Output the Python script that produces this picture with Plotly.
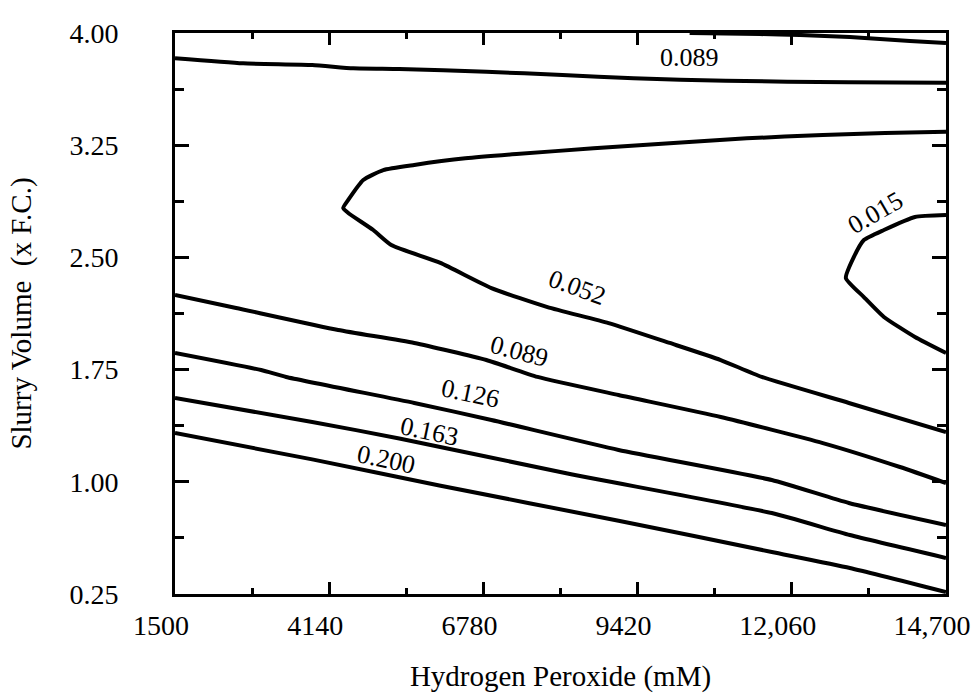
import plotly.graph_objects as go

# ---- axis ticks ----
x_tick_vals = [1500, 4140, 6780, 9420, 12060, 14700]
x_tick_text = ["1500", "4140", "6780", "9420", "12,060", "14,700"]
y_tick_vals = [0.25, 1.00, 1.75, 2.50, 3.25, 4.00]
y_tick_text = ["0.25", "1.00", "1.75", "2.50", "3.25", "4.00"]

# ---- contour lines ----
top_x = [10311, 11511, 12197, 13054, 13569, 14083, 14700]
top_y = [4.000, 3.993, 3.987, 3.973, 3.960, 3.947, 3.933]

c089_upper_x = [1500, 2666, 3849, 4551, 5340, 6831, 8134, 9351, 10929, 13037, 14700]
c089_upper_y = [3.831, 3.797, 3.786, 3.764, 3.759, 3.741, 3.719, 3.697, 3.681, 3.670, 3.668]

c052_x = [14700, 13654, 12591, 11289, 9969, 8666, 7346, 6471, 5597, 5066, 4723, 4466, 4380,
          4466, 4894, 5203, 6043, 6917, 7877, 8923, 9969, 10843, 11546, 13037, 14700]
c052_y = [3.340, 3.332, 3.318, 3.296, 3.263, 3.229, 3.191, 3.162, 3.118, 3.084, 3.017, 2.884, 2.830,
          2.797, 2.683, 2.583, 2.463, 2.295, 2.168, 2.061, 1.928, 1.814, 1.701, 1.527, 1.333]

c089_lower_x = [1500, 2546, 4294, 5597, 6831, 7706, 9094, 10843, 12591, 13911, 14700]
c089_lower_y = [2.249, 2.162, 2.015, 1.928, 1.814, 1.701, 1.580, 1.433, 1.259, 1.099, 0.992]

c126_x = [1500, 2974, 3403, 5597, 6917, 9094, 11717, 13037, 14700]
c126_y = [1.861, 1.747, 1.701, 1.527, 1.413, 1.213, 1.012, 0.858, 0.711]

c163_x = [1500, 3849, 5340, 8220, 11717, 13054, 14700]
c163_y = [1.560, 1.400, 1.290, 1.055, 0.791, 0.644, 0.491]

c200_x = [1500, 3849, 6026, 9094, 11717, 13054, 14700]
c200_y = [1.326, 1.150, 0.975, 0.740, 0.531, 0.424, 0.263]

c015_x = [14700, 14169, 13637, 13294, 13123, 12986, 13294, 13637, 14169, 14700]
c015_y = [2.783, 2.770, 2.683, 2.616, 2.503, 2.362, 2.235, 2.102, 1.968, 1.861]

# ---- contour labels ----
label_text = ["0.089", "0.052", "0.089", "0.126", "0.163", "0.200", "0.015"]
label_x = [10311, 8391, 7397, 6557, 5854, 5117, 13500]
label_y = [3.833, 2.300, 1.870, 1.590, 1.335, 1.150, 2.800]
label_angle = [0, 20, 15, 12, 12, 12, -30]

FONT = "Liberation Serif"

fig = go.Figure()
lines = [
    (top_x, top_y), (c089_upper_x, c089_upper_y), (c052_x, c052_y),
    (c089_lower_x, c089_lower_y), (c126_x, c126_y), (c163_x, c163_y),
    (c200_x, c200_y), (c015_x, c015_y),
]
for lx, ly in lines:
    fig.add_trace(go.Scatter(
        x=lx, y=ly, mode="lines",
        line=dict(color="black", width=4, shape="spline", smoothing=0.5),
        hoverinfo="skip", showlegend=False, cliponaxis=True,
    ))

for t, lx, ly, a in zip(label_text, label_x, label_y, label_angle):
    fig.add_annotation(x=lx, y=ly, text=t, textangle=a, showarrow=False,
                       font=dict(family=FONT, size=26, color="black"),
                       xanchor="center", yanchor="middle")

axis_common = dict(
    ticks="inside", tickwidth=2.5, tickcolor="black",
    showline=True, linewidth=3, linecolor="black", mirror="ticks",
    showgrid=False, zeroline=False, automargin=False,
    tickfont=dict(family=FONT, size=28, color="black"),
)

fig.update_layout(
    width=976, height=693,
    margin=dict(l=175, r=30, t=33, b=99),
    plot_bgcolor="white", paper_bgcolor="white",
    showlegend=False,
    font=dict(family=FONT, color="black", size=28),
    xaxis=dict(
        range=[1500, 14700], tickmode="array",
        tickvals=x_tick_vals, ticktext=x_tick_text, ticklen=12,
        minor=dict(ticks="inside", tick0=1500, dtick=1320, ticklen=6,
                   tickwidth=2.5, tickcolor="black"),
        ticklabelshift=-14, ticklabelstandoff=4,
        title=dict(text="Hydrogen Peroxide (mM)", standoff=30,
                   font=dict(family=FONT, size=29, color="black")),
        **axis_common,
    ),
    yaxis=dict(
        range=[0.25, 4.0], tickmode="array",
        tickvals=y_tick_vals, ticktext=y_tick_text, ticklen=14,
        minor=dict(ticks="inside", tick0=0.25, dtick=0.375, ticklen=9,
                   tickwidth=2.5, tickcolor="black"),
        ticklabelstandoff=48,
        title=dict(text="Slurry Volume \u00a0(x F.C.)", standoff=30,
                   font=dict(family=FONT, size=29, color="black")),
        **axis_common,
    ),
)

fig.write_html("out.html")
